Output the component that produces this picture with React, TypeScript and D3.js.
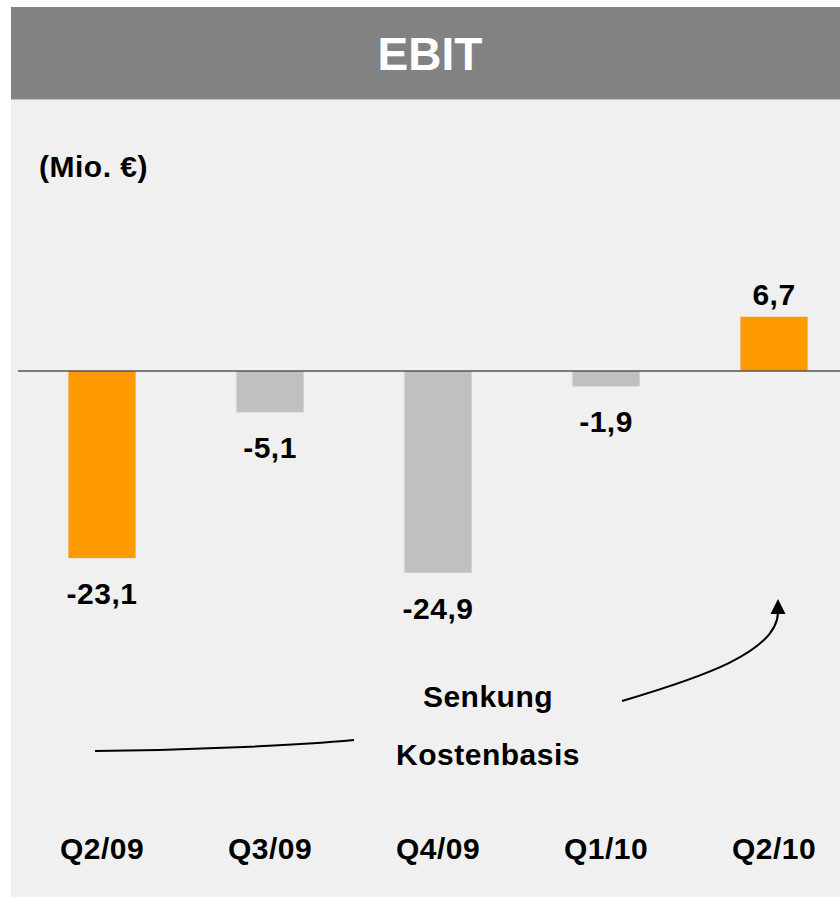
import React from "react";
import * as d3 from "d3";

const categories = ["Q2/09", "Q3/09", "Q4/09", "Q1/10", "Q2/10"];
const values = [-23.1, -5.1, -24.9, -1.9, 6.7];
const valueLabels = ["-23,1", "-5,1", "-24,9", "-1,9", "6,7"];
const highlighted = [true, false, false, false, true];
const title = "EBIT";
const unitLabel = "(Mio. €)";
const noteLines = ["Senkung", "Kostenbasis"];

const W = 840;
const H = 898;
const FONT = "'Liberation Sans', Arial, Helvetica, sans-serif";
const FS = 30;
const LS = 0.5;

export default function App() {
  const x = d3
    .scaleBand<string>()
    .domain(categories)
    .range([18, 858])
    .paddingInner(0.6)
    .paddingOuter(0.3);
  const y = d3.scaleLinear().domain([-30, 10]).range([614, 290]);
  const y0 = y(0);

  const leftCurve = d3.path();
  leftCurve.moveTo(95, 751);
  leftCurve.bezierCurveTo(200, 750, 300, 745, 354, 740);

  const rightCurve = d3.path();
  rightCurve.moveTo(622, 701);
  rightCurve.bezierCurveTo(700, 678, 778, 652, 778, 612);

  return (
    <svg
      width={W}
      height={H}
      style={{ position: "absolute", left: 0, top: 0 }}
      fontFamily={FONT}
    >
      <rect x={0} y={0} width={W} height={H} fill="#ffffff" />
      <rect x={11} y={99} width={W - 11} height={798} fill="#f0f0f0" />
      <rect x={11} y={7} width={W - 11} height={92} fill="#828282" />
      <line x1={11} x2={W} y1={99} y2={99} stroke="#8e8e8e" strokeWidth={1} />
      <text
        x={430}
        y={70}
        textAnchor="middle"
        fill="#ffffff"
        fontWeight="bold"
        fontSize={46}
      >
        {title}
      </text>
      <text x={39} y={177} fontWeight="bold" fontSize={FS} letterSpacing={LS} fill="#000">
        {unitLabel}
      </text>

      {categories.map((c, i) => {
        const v = values[i];
        const top = Math.min(y(v), y0);
        const h = Math.abs(y(v) - y0);
        return (
          <rect
            key={c}
            x={x(c)}
            y={top}
            width={x.bandwidth()}
            height={h}
            fill={highlighted[i] ? "#ff9900" : "#c0c0c0"}
          />
        );
      })}

      <line x1={18} x2={W} y1={y0} y2={y0} stroke="#555555" strokeWidth={1.5} />

      {categories.map((c, i) => {
        const v = values[i];
        const cx = (x(c) as number) + x.bandwidth() / 2;
        const ly = v >= 0 ? y(v) - 12 : y(v) + 46;
        return (
          <text
            key={c + "-v"}
            x={cx}
            y={ly}
            textAnchor="middle"
            fontWeight="bold"
            fontSize={FS}
            letterSpacing={LS}
            fill="#000"
          >
            {valueLabels[i]}
          </text>
        );
      })}

      {categories.map((c) => (
        <text
          key={c + "-c"}
          x={(x(c) as number) + x.bandwidth() / 2}
          y={859}
          textAnchor="middle"
          fontWeight="bold"
          fontSize={FS}
          letterSpacing={LS}
          fill="#000"
        >
          {c}
        </text>
      ))}

      <text x={488} y={707} textAnchor="middle" fontWeight="bold" fontSize={FS} letterSpacing={LS} fill="#000">
        {noteLines[0]}
      </text>
      <text x={488} y={765} textAnchor="middle" fontWeight="bold" fontSize={FS} letterSpacing={LS} fill="#000">
        {noteLines[1]}
      </text>

      <path d={leftCurve.toString()} fill="none" stroke="#000" strokeWidth={2} />
      <path d={rightCurve.toString()} fill="none" stroke="#000" strokeWidth={2} />
      <path d="M778,599 L770.5,614 L785.5,614 Z" fill="#000" />
    </svg>
  );
}
